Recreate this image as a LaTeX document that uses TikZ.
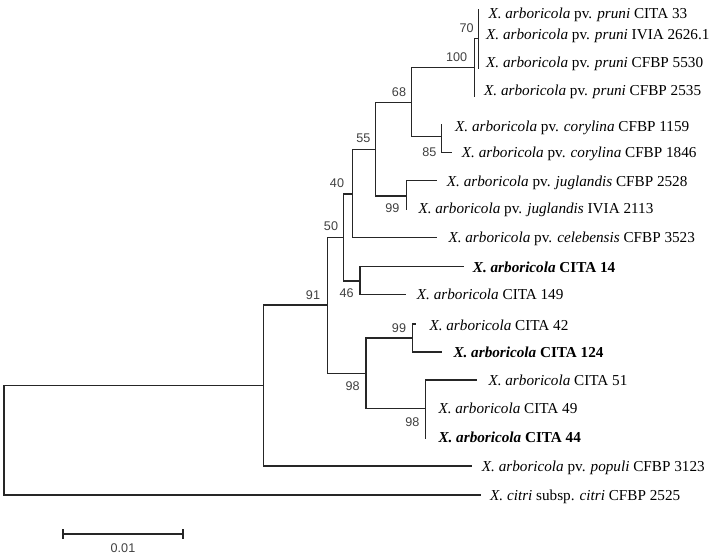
\documentclass[tikz,border=0pt]{standalone}
\usepackage{fontspec}
\setmainfont{Liberation Serif}
\newfontfamily\numfont{Liberation Sans}
\definecolor{branchcol}{HTML}{262626}
\definecolor{bscol}{HTML}{404040}
\begin{document}
\begin{tikzpicture}[x=1pt,y=-1pt,
  br/.style={line width=1.4pt, draw=branchcol, line cap=rect},
  leaf/.style={anchor=base west, inner sep=0pt, font=\fontsize{15.2}{18}\selectfont},
  bs/.style={inner sep=0pt, font=\numfont\fontsize{12.6}{14}\selectfont, text=bscol}]
\useasboundingbox (0,0) rectangle (714,557);
% internal nodes
\coordinate (root) at (4,440);
\coordinate (nA) at (263.3,385.7);
\coordinate (n91) at (327.3,305);
\coordinate (n50) at (343.3,237.5);
\coordinate (n40) at (352.3,194);
\coordinate (n55) at (375.7,149.3);
\coordinate (n68) at (411.7,102.5);
\coordinate (n100) at (474.3,67.5);
\coordinate (n70) at (478.3,38.3);
\coordinate (n85) at (441.7,136.7);
\coordinate (n99j) at (406.7,196);
\coordinate (n46) at (360,281);
\coordinate (n98a) at (366,373.3);
\coordinate (n99c) at (412.7,338);
\coordinate (n98b) at (425.5,408.7);
% leaf tips
\coordinate (lp33) at (478.3,10);
\coordinate (lp5530) at (478.3,68.3);
\coordinate (lp2535) at (474.3,96);
\coordinate (lc1159) at (441.7,125);
\coordinate (lc1846) at (451,152.7);
\coordinate (lj2528) at (436.7,180.7);
\coordinate (lj2113) at (406.7,209.3);
\coordinate (lcel) at (436.7,237.7);
\coordinate (l14) at (463.3,266.7);
\coordinate (l149) at (405,294.3);
\coordinate (l42) at (415.7,324);
\coordinate (l124) at (441.7,352);
\coordinate (l51) at (476,380);
\coordinate (l44) at (425.5,438);
\coordinate (lpop) at (471.7,466);
\coordinate (lcitri) at (480,495);
% branches
\draw[br] (root) |- (nA);
\draw[br] (root) |- (lcitri);
\draw[br] (nA) |- (n91);
\draw[br] (nA) |- (lpop);
\draw[br] (n91) |- (n50);
\draw[br] (n91) |- (n98a);
\draw[br] (n50) |- (n40);
\draw[br] (n50) |- (n46);
\draw[br] (n40) |- (n55);
\draw[br] (n40) |- (lcel);
\draw[br] (n55) |- (n68);
\draw[br] (n55) |- (n99j);
\draw[br] (n68) |- (n100);
\draw[br] (n68) |- (n85);
\draw[br] (n100) |- (n70);
\draw[br] (n100) |- (lp2535);
\draw[br] (n70) |- (lp33);
\draw[br] (n70) |- (lp5530);
\draw[br] (n85) |- (lc1159);
\draw[br] (n85) |- (lc1846);
\draw[br] (n99j) |- (lj2528);
\draw[br] (n99j) |- (lj2113);
\draw[br] (n46) |- (l14);
\draw[br] (n46) |- (l149);
\draw[br] (n98a) |- (n99c);
\draw[br] (n98a) |- (n98b);
\draw[br] (n99c) |- (l42);
\draw[br] (n99c) |- (l124);
\draw[br] (n98b) |- (l51);
\draw[br] (n98b) |- (l44);
% leaf labels
\node[leaf] (tp33) at (488.3,18) {\textit{X. arboricola} pv. \textit{pruni} CITA 33};
\node[leaf] (tp2626) at (486,39) {\textit{X. arboricola} pv. \textit{pruni} IVIA 2626.1};
\node[leaf] (tp5530) at (486,67) {\textit{X. arboricola} pv. \textit{pruni} CFBP 5530};
\node[leaf] (tp2535) at (484,95) {\textit{X. arboricola} pv. \textit{pruni} CFBP 2535};
\node[leaf] (tc1159) at (455,131.7) {\textit{X. arboricola} pv. \textit{corylina} CFBP 1159};
\node[leaf] (tc1846) at (461.7,157.7) {\textit{X. arboricola} pv. \textit{corylina} CFBP 1846};
\node[leaf] (tj2528) at (446.7,186.5) {\textit{X. arboricola} pv. \textit{juglandis} CFBP 2528};
\node[leaf] (tj2113) at (418.3,213.7) {\textit{X. arboricola} pv. \textit{juglandis} IVIA 2113};
\node[leaf] (tcel) at (448.3,242.5) {\textit{X. arboricola} pv. \textit{celebensis} CFBP 3523};
\node[leaf] (t14) at (472.7,272) {\textbf{\textit{X. arboricola} CITA 14}};
\node[leaf] (t149) at (416.7,299.5) {\textit{X. arboricola} CITA 149};
\node[leaf] (t42) at (429.3,330) {\textit{X. arboricola} CITA 42};
\node[leaf] (t124) at (453.3,357) {\textbf{\textit{X. arboricola} CITA 124}};
\node[leaf] (t51) at (488.3,385.5) {\textit{X. arboricola} CITA 51};
\node[leaf] (t49) at (438.3,413.5) {\textit{X. arboricola} CITA 49};
\node[leaf] (t44) at (438.3,442.5) {\textbf{\textit{X. arboricola} CITA 44}};
\node[leaf] (tpop) at (481.7,471) {\textit{X. arboricola} pv. \textit{populi} CFBP 3123};
\node[leaf] (tcitri) at (490,500) {\textit{X. citri} subsp. \textit{citri} CFBP 2525};
% bootstrap values
\node[bs] (b70) at (466.7,28.3) {70};
\node[bs] (b100) at (456.7,57.3) {100};
\node[bs] (b68) at (399,91.7) {68};
\node[bs] (b55) at (363.3,138.3) {55};
\node[bs] (b85) at (429.3,151.7) {85};
\node[bs] (b40) at (337,183.5) {40};
\node[bs] (b99j) at (392.3,208.3) {99};
\node[bs] (b50) at (331,226) {50};
\node[bs] (b46) at (346.7,293.3) {46};
\node[bs] (b91) at (313,295) {91};
\node[bs] (b99c) at (399,327.7) {99};
\node[bs] (b98a) at (352.7,385.7) {98};
\node[bs] (b98b) at (412.3,422.5) {98};
% scale bar
\coordinate (sb1) at (63,534);
\coordinate (sb2) at (183,534);
\draw[br, line cap=butt] (sb1) -- (sb2);
\draw[br, line cap=butt] ([yshift=4.7pt]sb1) -- ([yshift=-4.7pt]sb1);
\draw[br, line cap=butt] ([yshift=4.7pt]sb2) -- ([yshift=-4.7pt]sb2);
\node[bs] (sblabel) at (123,548) {0.01};
\end{tikzpicture}
\end{document}
